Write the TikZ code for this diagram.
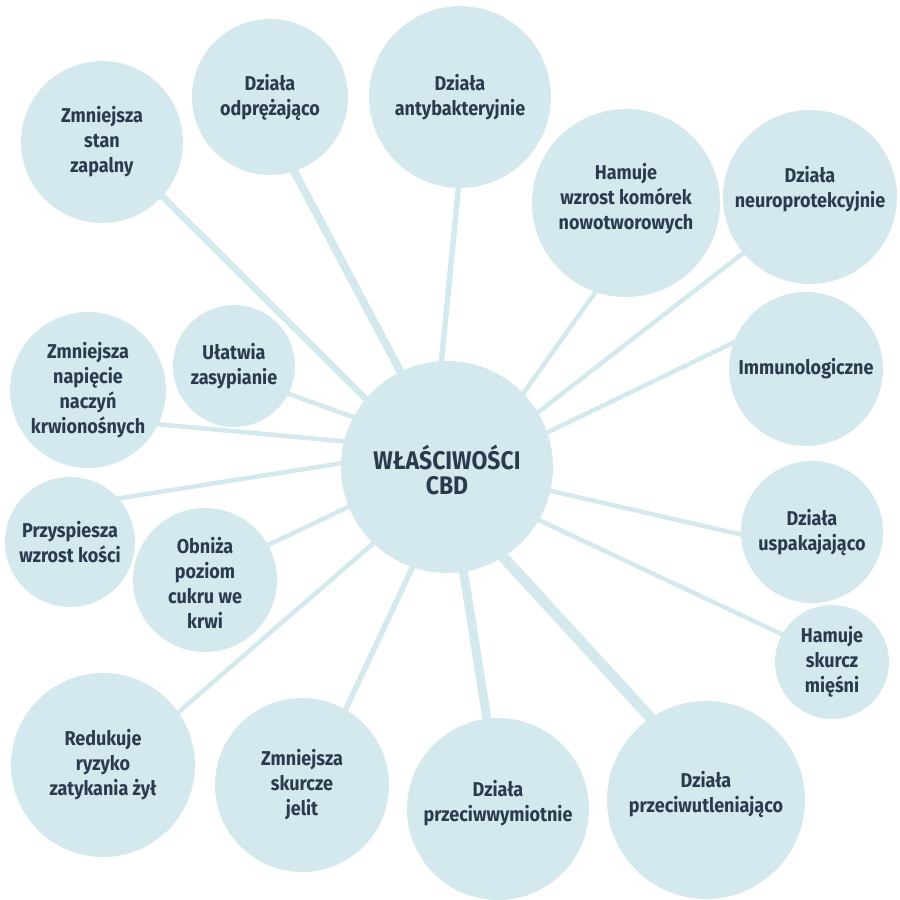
\documentclass[tikz,border=0pt]{standalone}
\usepackage{fontspec}
\setmainfont{Fira Sans}[FakeStretch=0.9]
\usetikzlibrary{backgrounds}

\definecolor{cbdblue}{RGB}{211,233,238}
\definecolor{cbdink}{RGB}{44,58,78}

\tikzset{
  bubble/.style={circle, fill=cbdblue, inner sep=0pt, align=center,
    text=cbdink, font=\bfseries\fontsize{20}{25}\selectfont},
  link/.style={draw=cbdblue, line width=#1, shorten <=-4pt, shorten >=-4pt},
  link/.default=4.5pt
}

\begin{document}
\begin{tikzpicture}[x=1pt,y=-1pt]

    % The page is 900 by 900, measured from the top left corner
    \useasboundingbox (0,0) rectangle (900,900);

    % The central circle
    \node[bubble, minimum size=212pt, text height=55pt, font=\bfseries\fontsize{25.5}{25}\selectfont]
        (cbd) at (447,467) {WŁAŚCIWOŚCI\\CBD};

    % The properties round it, clockwise from the top left
    % (text depth lifts the text, text height drops it, where it is off centre)
    \node[bubble, minimum size=162pt] (zapal) at (102,142) {Zmniejsza\\stan\\zapalny};
    \node[bubble, minimum size=156pt] (odpr) at (270,97) {Działa\\odprężająco};
    \node[bubble, minimum size=182pt] (bakt) at (460,97) {Działa\\antybakteryjnie};
    \node[bubble, minimum size=188pt, text depth=14pt] (nowot) at (626,203) {Hamuje\\wzrost komórek\\nowotworowych};
    \node[bubble, minimum size=174pt, text depth=20pt] (neuro) at (810,197) {Działa\\neuroprotekcyjnie};
    \node[bubble, minimum size=154pt] (immuno) at (806,369) {Immunologiczne};
    \node[bubble, minimum size=142pt] (uspak) at (812,532) {Działa\\uspakajająco};
    \node[bubble, minimum size=114pt] (skurcz) at (832,662) {Hamuje\\skurcz\\mięśni};
    \node[bubble, minimum size=198pt, text depth=17pt] (utlen) at (706,800) {Działa\\przeciwutleniająco};
    \node[bubble, minimum size=182pt, text depth=17pt] (wymiot) at (498,809) {Działa\\przeciwwymiotnie};
    \node[bubble, minimum size=174pt] (jelit) at (302,785) {Zmniejsza\\skurcze\\jelit};
    \node[bubble, minimum size=184pt] (zyly) at (103,765) {Redukuje\\ryzyko\\zatykania żył};
    \node[bubble, minimum size=144pt, text height=96pt] (cukier) at (205,580) {Obniża\\poziom\\cukru we\\krwi};
    \node[bubble, minimum size=130pt] (kosci) at (70,542) {Przyspiesza\\wzrost kości};
    \node[bubble, minimum size=156pt] (naczynia) at (88,390) {Zmniejsza\\napięcie\\naczyń\\krwionośnych};
    \node[bubble, minimum size=122pt] (sen) at (234,366) {Ułatwia\\zasypianie};

    % The spokes go behind the circles
    \begin{scope}[on background layer]
        \draw[link=6.5pt] (cbd.140) -- (zapal.-42);
        \draw[link=8pt] (cbd.116) -- (odpr.-72);
        \draw[link=5.5pt] (cbd.93) -- (bakt.-91);
        \draw[link] (cbd.44) -- (nowot.-109);
        \draw[link] (cbd.31) -- (neuro.-140);
        \draw[link] (cbd.19) -- (immuno.160);
        \draw[link] (cbd.-13) -- (uspak.182);
        \draw[link] (cbd.-30) -- (skurcz.151);
        \draw[link=11pt] (cbd.-58) -- (utlen.124);
        \draw[link=9pt] (cbd.-81) -- (wymiot.97);
        \draw[link=5.5pt] (cbd.-109) -- (jelit.60);
        \draw[link] (cbd.-134) -- (zyly.35);
        \draw[link] (cbd.-158) -- (cukier.29);
        \draw[link] (cbd.178) -- (kosci.42);
        \draw[link] (cbd.166) -- (naczynia.-26);
        \draw[link] (cbd.152) -- (sen.-27);
    \end{scope}

\end{tikzpicture}
\end{document}
